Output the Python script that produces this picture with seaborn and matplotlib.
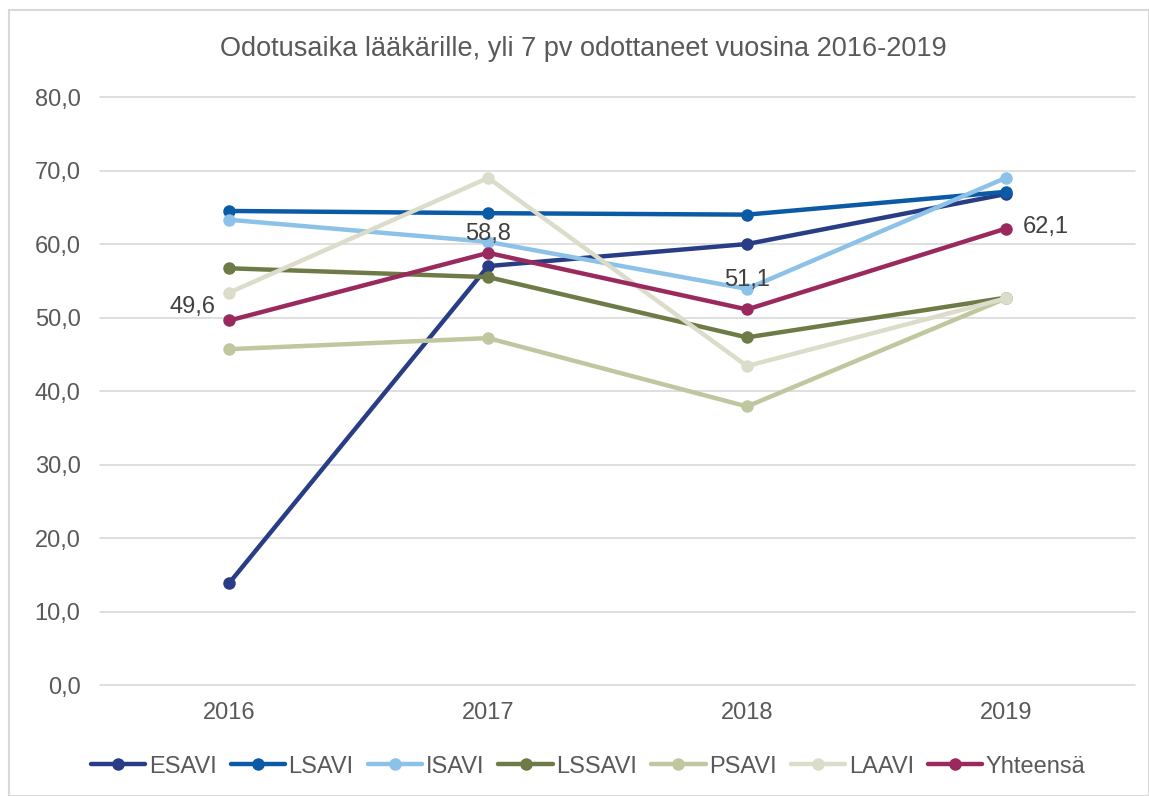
import pandas as pd
import matplotlib
matplotlib.use("Agg")
import matplotlib.pyplot as plt
import seaborn as sns
from matplotlib.patches import Rectangle

# data
years = [2016, 2017, 2018, 2019]
esavi = [13.9, 57.0, 60.0, 66.8]
lsavi = [64.5, 64.2, 64.0, 67.1]
isavi = [63.3, 60.3, 53.9, 69.0]
lssavi = [56.7, 55.5, 47.3, 52.7]
psavi = [45.7, 47.2, 37.9, 52.6]
laavi = [53.4, 69.0, 43.4, 52.6]
yhteensa = [49.6, 58.8, 51.1, 62.1]

series = {
    "ESAVI": esavi,
    "LSAVI": lsavi,
    "ISAVI": isavi,
    "LSSAVI": lssavi,
    "PSAVI": psavi,
    "LAAVI": laavi,
    "Yhteensä": yhteensa,
}
colors = ["#283d85", "#0b5aa6", "#8cc2e8", "#6e7b47", "#bfc79f", "#dcdccb", "#9a2a5e"]

rows = []
for name, vals in series.items():
    for y, v in zip(years, vals):
        rows.append({"Vuosi": y, "Arvo": v, "Alue": name})
df = pd.DataFrame(rows)

sns.set_theme(style="white")
plt.rcParams["font.family"] = ["Liberation Sans", "DejaVu Sans"]

fig = plt.figure(figsize=(11.49, 7.96), dpi=100)
ax = fig.add_axes([0.087, 0.1394, 0.901, 0.7387])
fig.patches.append(Rectangle((0.008, 0.0), 0.992, 0.987, transform=fig.transFigure,
                             fill=False, edgecolor="#d9d9d9", linewidth=1.5))

sns.lineplot(data=df, x="Vuosi", y="Arvo", hue="Alue", palette=colors,
             marker="o", markersize=9, markeredgewidth=0, linewidth=3.2,
             ax=ax, legend=False)

ax.set_xlim(2015.5, 2019.5)
ax.set_ylim(0, 80)
ax.set_xticks(years)
ax.set_xticklabels([str(y) for y in years])
ax.set_yticks(range(0, 81, 10))
ax.set_yticklabels([f"{v:.1f}".replace(".", ",") for v in range(0, 81, 10)])
ax.tick_params(axis="both", length=0, labelsize=17, colors="#595959")
ax.tick_params(axis="x", pad=12)
ax.tick_params(axis="y", pad=14)
ax.set_xlabel("")
ax.set_ylabel("")
ax.grid(axis="y", color="#d9d9d9", linewidth=1.2)
for gl in ax.get_ygridlines():
    gl.set_clip_on(False)
for s in ax.spines.values():
    s.set_visible(False)

# data labels for the total series
offsets = [(-10, 10, "right", "center"), (0, 6, "center", "bottom"),
           (0, 13, "center", "bottom"), (12, 1, "left", "center")]
for y, v, (dx, dy, ha, va) in zip(years, yhteensa, offsets):
    ax.annotate(f"{v:.1f}".replace(".", ","), (y, v), xytext=(dx, dy),
                textcoords="offset points", ha=ha, va=va, fontsize=17, color="#404040")

fig.text(0.508, 0.938, "Odotusaika lääkärille, yli 7 pv odottaneet vuosina 2016-2019",
         ha="center", va="center", fontsize=19.5, color="#595959")

handles = [plt.Line2D([], [], color=c, linewidth=3.2, marker="o", markersize=9,
                      markeredgewidth=0) for c in colors]
fig.legend(handles, list(series.keys()), loc="center", bbox_to_anchor=(0.512, 0.037),
           ncol=7, frameon=False, fontsize=17, handlelength=2.3, columnspacing=0.6,
           handletextpad=0.15, labelcolor="#595959")

fig.savefig("out.png", dpi=100)
